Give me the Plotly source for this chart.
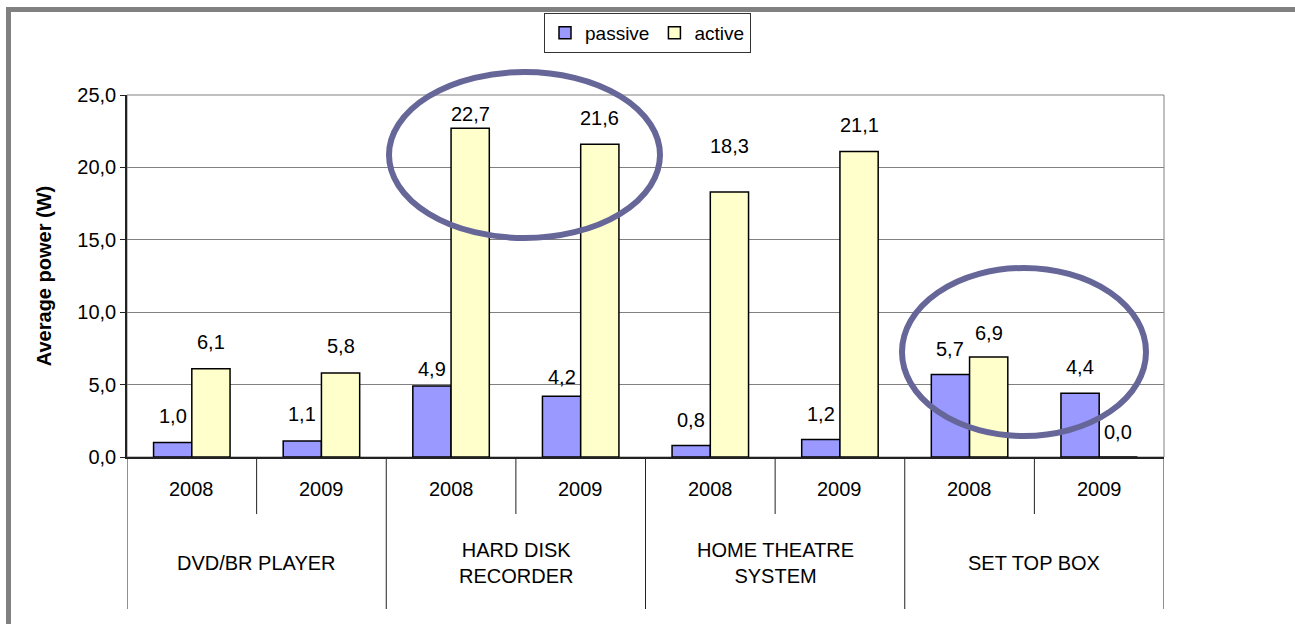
import plotly.graph_objects as go

groups = ["DVD/BR PLAYER", "HARD DISK<br>RECORDER", "HOME THEATRE<br>SYSTEM", "SET TOP BOX"]
years = ["2008", "2009"]
passive = [1.0, 1.1, 4.9, 4.2, 0.8, 1.2, 5.7, 4.4]
active = [6.1, 5.8, 22.7, 21.6, 18.3, 21.1, 6.9, 0.0]
y_ticks = [0, 5, 10, 15, 20, 25]

# label vertical offsets (px), style only
passive_shift = [27, 27, 17, 19, 25, 26, 25, 26]
active_shift = [27, 27, 14, 26, 46, 26, 24, 25]

n = len(passive)
xs = list(range(n))

L, R, T, B = 127, 1164, 95, 457
W, H = 1295, 624
pw, ph = R - L, B - T

def px(x):
    return (x - L) / pw

def py(y):
    return (B - y) / ph

FONT = "Liberation Sans, Arial, sans-serif"
PASSIVE_C = "#9999FF"
ACTIVE_C = "#FFFFCC"

fig = go.Figure()
fig.add_trace(go.Bar(x=xs, y=passive, name="passive",
                     marker=dict(color=PASSIVE_C, line=dict(color="black", width=1.5))))
fig.add_trace(go.Bar(x=xs, y=active, name="active",
                     marker=dict(color=ACTIVE_C, line=dict(color="black", width=1.5))))

bargap = 0.41
bw = (1 - bargap) / 2

annotations = []
for i in range(n):
    annotations.append(dict(x=i - bw / 2, y=passive[i], xref="x", yref="y",
                            text=f"{passive[i]:.1f}".replace(".", ","), showarrow=False,
                            yshift=passive_shift[i], yanchor="middle",
                            font=dict(size=20, color="black", family=FONT)))
    annotations.append(dict(x=i + bw / 2, y=active[i], xref="x", yref="y",
                            text=f"{active[i]:.1f}".replace(".", ","), showarrow=False,
                            yshift=active_shift[i], yanchor="middle",
                            font=dict(size=20, color="black", family=FONT)))

# year labels
for i in range(n):
    annotations.append(dict(x=i, y=py(489), xref="x", yref="paper",
                            text=years[i % 2], showarrow=False, yanchor="middle",
                            font=dict(size=20, color="black", family=FONT)))
# group labels
for g, name in enumerate(groups):
    annotations.append(dict(x=2 * g + 0.5, y=py(563), xref="x", yref="paper",
                            text=name, showarrow=False, yanchor="middle",
                            font=dict(size=20, color="black", family=FONT)))

shapes = []
# plot border (gray)
shapes.append(dict(type="rect", xref="paper", yref="paper", x0=0, x1=1, y0=0, y1=1,
                   line=dict(color="#808080", width=1), layer="below"))
# category dividers
for k in range(n + 1):
    full = (k % 2 == 0)
    shapes.append(dict(type="line", xref="x", yref="paper", x0=k - 0.5, x1=k - 0.5,
                       y0=0, y1=py(609) if full else py(514),
                       line=dict(color="#222222", width=1)))
# outer frame
shapes.append(dict(type="line", xref="paper", yref="paper", x0=px(6), x1=px(1300),
                   y0=py(9.5), y1=py(9.5), line=dict(color="#808080", width=5)))
shapes.append(dict(type="line", xref="paper", yref="paper", x0=px(8.5), x1=px(8.5),
                   y0=py(7), y1=py(630), line=dict(color="#808080", width=5)))
# highlight ellipses
shapes.append(dict(type="circle", xref="paper", yref="paper",
                   x0=px(389), x1=px(660), y0=py(238), y1=py(72),
                   line=dict(color="#666699", width=6)))
shapes.append(dict(type="circle", xref="paper", yref="paper",
                   x0=px(902), x1=px(1146), y0=py(436), y1=py(268),
                   line=dict(color="#666699", width=6)))

fig.update_layout(
    width=W, height=H,
    margin=dict(l=L, r=W - R, t=T, b=H - B, pad=0),
    paper_bgcolor="white", plot_bgcolor="white",
    barmode="group", bargap=bargap, bargroupgap=0,
    separators=",.",
    font=dict(family=FONT, size=20, color="black"),
    showlegend=True,
    legend=dict(orientation="h", x=px(544), xanchor="left", y=py(13), yanchor="top",
                bordercolor="#333333", borderwidth=1, bgcolor="white",
                font=dict(size=19, family=FONT, color="black"),
                itemwidth=30, tracegroupgap=0),
    xaxis=dict(range=[-0.5, n - 0.5], showticklabels=False, ticks="",
               showgrid=False, zeroline=False, showline=True, linecolor="#222222",
               linewidth=1.5, fixedrange=True),
    yaxis=dict(range=[0, 25], tickvals=y_ticks, tickformat=".1f",
               ticks="outside", ticklen=5, tickcolor="#222222",
               showgrid=True, gridcolor="#808080", gridwidth=1,
               zeroline=False, showline=True, linecolor="#222222", linewidth=1.5,
               tickfont=dict(size=20, family=FONT, color="black"),
               title=dict(text="<b>Average power (W)</b>", standoff=20,
                          font=dict(size=20, family=FONT, color="black")),
               fixedrange=True),
    annotations=annotations,
    shapes=shapes,
)

fig.write_html("out.html", config={"displayModeBar": False},
               post_script="document.body.style.margin='0';document.body.style.padding='0';")
